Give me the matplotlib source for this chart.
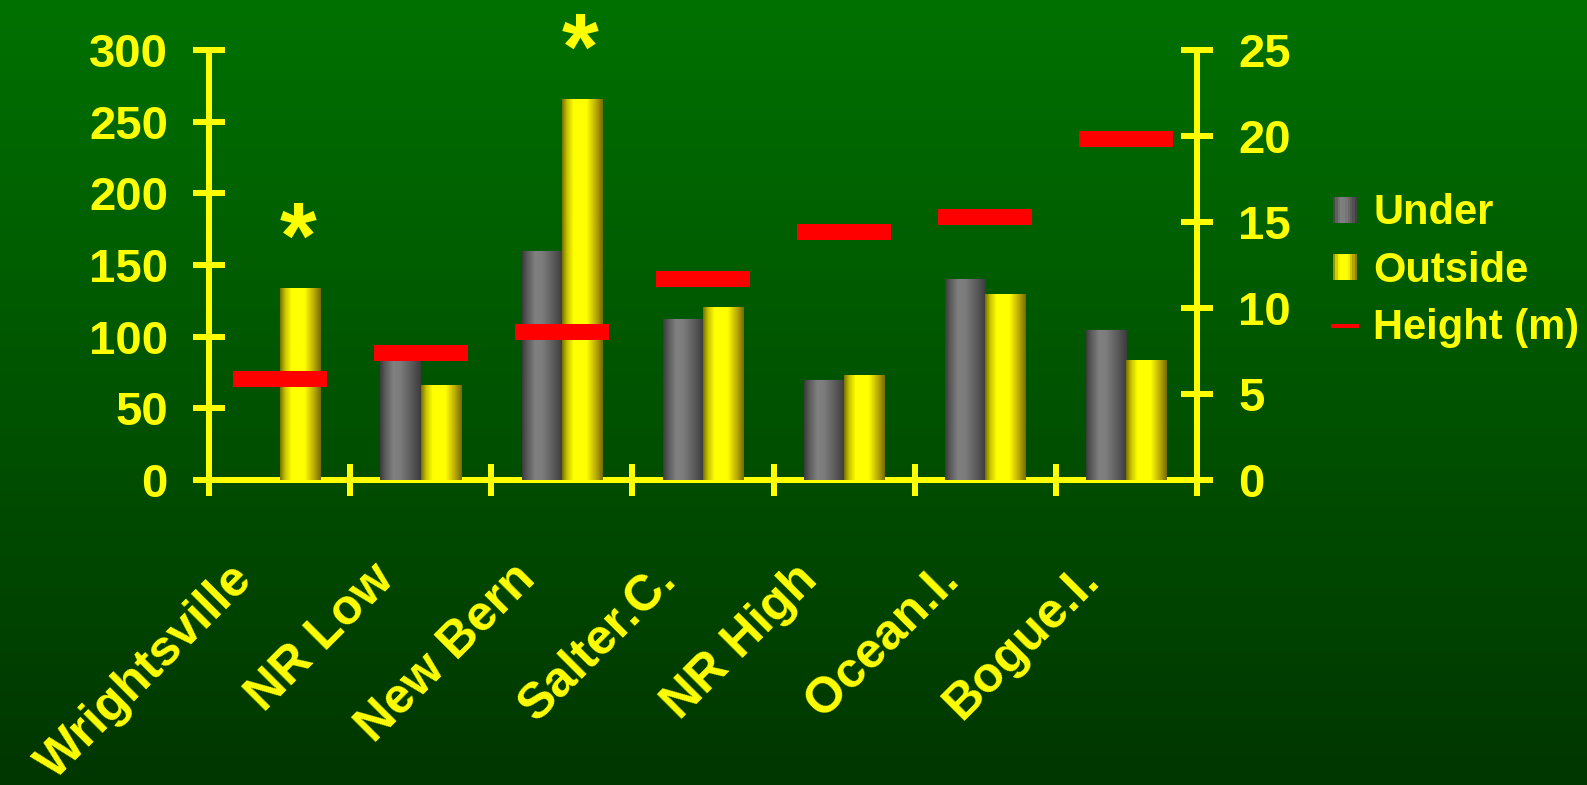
import numpy as np
import matplotlib
matplotlib.use("Agg")
import matplotlib.pyplot as plt
from matplotlib.colors import LinearSegmentedColormap
from matplotlib.patches import Rectangle, Patch
from matplotlib.lines import Line2D
from matplotlib.legend_handler import HandlerBase
from matplotlib.transforms import ScaledTranslation

# ---- data -------------------------------------------------------------
categories = ["Wrightsville", "NR Low", "New Bern", "Salter.C.",
              "NR High", "Ocean.I.", "Bogue.I."]
under = [0, 87, 160, 112, 70, 140, 105]
outside = [134, 66, 266, 121, 73, 130, 84]
height_m = [5.9, 7.4, 8.6, 11.7, 14.4, 15.3, 19.8]
significant = [True, False, True, False, False, False, False]
left_ticks = [0, 50, 100, 150, 200, 250, 300]
right_ticks = [0, 5, 10, 15, 20, 25]

# ---- style ------------------------------------------------------------
YELLOW = "#ffff00"
FONT = "Liberation Sans"
plt.rcParams["font.family"] = [FONT, "DejaVu Sans"]
plt.rcParams["font.weight"] = "bold"

DPI = 100
PX = 72.0 / DPI  # points per pixel

gray_stops = [(0.0, "#3c3c3c"), (0.12, "#5a5a5a"), (0.32, "#808080"),
              (0.5, "#7c7c7c"), (0.78, "#5a5a5a"), (1.0, "#3c3c3c")]
yellow_stops = [(0.0, "#7a7400"), (0.12, "#c8c400"), (0.28, "#ffff00"),
                (0.6, "#ffff00"), (0.82, "#c0b000"), (1.0, "#786c00")]
gray_cmap = LinearSegmentedColormap.from_list("cyl_gray", gray_stops)
yellow_cmap = LinearSegmentedColormap.from_list("cyl_yellow", yellow_stops)

fig = plt.figure(figsize=(15.87, 7.85), dpi=DPI)

# background: vertical green gradient
bg = fig.add_axes([0, 0, 1, 1], zorder=-10)
top_c = np.array([0, 113, 0]) / 255.0
bot_c = np.array([0, 54, 0]) / 255.0
t = np.linspace(0, 1, 256)[:, None, None]
bg.imshow(top_c * (1 - t) + bot_c * t, aspect="auto", extent=(0, 1, 0, 1))
bg.set_axis_off()

L, R = 209 / 1587, 1197 / 1587
B, T = 1 - 480 / 785, 1 - 50 / 785
ax = fig.add_axes([L, B, R - L, T - B])
ax.set_facecolor("none")
ax2 = ax.twinx()

x = np.arange(len(categories))
bw = 0.285

bars_u = ax.bar(x - bw / 2, under, bw, color="#6a6a6a", zorder=2)
bars_o = ax.bar(x + bw / 2, outside, bw, color="#e0e000", zorder=2)

# cylinder-style shading clipped to each bar
grad = np.linspace(0, 1, 64)[None, :]
for bars, cmap in ((bars_u, gray_cmap), (bars_o, yellow_cmap)):
    for rect in bars:
        h = rect.get_height()
        if h <= 0:
            continue
        x0, w = rect.get_x(), rect.get_width()
        im = ax.imshow(grad, cmap=cmap, extent=(x0, x0 + w, 0, h),
                       aspect="auto", interpolation="bilinear", zorder=3)
        im.set_clip_path(rect)

# significance markers above the outside bars
for xi, v, sig in zip(x, outside, significant):
    if sig:
        ax.annotate("*", (xi + bw / 2, v), xytext=(-2 * PX, 20 * PX),
                    textcoords="offset points", ha="center", va="baseline",
                    fontsize=68, color=YELLOW, fontweight="bold", zorder=5)

# height markers on the right axis
ax2.hlines(height_m, x - 1 / 3, x + 1 / 3, colors="#ff0000",
           linewidth=16 * PX, capstyle="butt", zorder=4)

ax.set_xlim(-0.5, len(categories) - 0.5)
ax.set_ylim(0, 300)
ax2.set_ylim(0, 25)

# spines
lw = 6 * PX
for a in (ax, ax2):
    for s in a.spines.values():
        s.set_visible(False)
for s in ("left", "bottom"):
    ax.spines[s].set_visible(True)
    ax.spines[s].set_color(YELLOW)
    ax.spines[s].set_linewidth(lw)
ax2.spines["right"].set_visible(True)
ax2.spines["right"].set_color(YELLOW)
ax2.spines["right"].set_linewidth(lw)

# y ticks
ax.set_yticks(left_ticks)
ax2.set_yticks(right_ticks)
for a in (ax, ax2):
    a.tick_params(axis="y", direction="inout", length=32 * PX, width=lw,
                  color=YELLOW, labelcolor=YELLOW, labelsize=34,
                  pad=25 * PX)
for lbl in ax.get_yticklabels() + ax2.get_yticklabels():
    lbl.set_fontweight("bold")

# x ticks: boundaries as minor ticks, names at category centres
ax.set_xticks(np.arange(-0.5, len(categories)), minor=True)
ax.tick_params(axis="x", which="minor", direction="inout", length=32 * PX,
               width=lw, color=YELLOW)
ax.set_xticks(x, labels=categories, rotation=45, ha="right", va="baseline",
              rotation_mode="anchor", fontsize=36, fontweight="bold",
              color=YELLOW)
ax.tick_params(axis="x", which="major", length=0, pad=101 * PX)
shift = ScaledTranslation(-25 / DPI, 0, fig.dpi_scale_trans)
for lbl in ax.get_xticklabels():
    lbl.set_transform(lbl.get_transform() + shift)


# legend with banded cylinder swatches
class StripHandler(HandlerBase):
    def __init__(self, cmap, n=10):
        super().__init__()
        self.cmap, self.n = cmap, n

    def create_artists(self, legend, orig_handle, xdescent, ydescent,
                       width, height, fontsize, trans):
        sw = width / self.n
        return [Rectangle((-xdescent + i * sw, -ydescent), sw * 1.02, height,
                          facecolor=self.cmap((i + 0.5) / self.n),
                          edgecolor="none", transform=trans)
                for i in range(self.n)]


h_under = Patch(label="Under")
h_out = Patch(label="Outside")
h_height = Line2D([], [], color="#ff0000", lw=4 * PX, label="Height (m)")
leg = fig.legend(handles=[h_under, h_out, h_height],
                 handler_map={h_under: StripHandler(gray_cmap),
                              h_out: StripHandler(yellow_cmap)},
                 loc="center left",
                 bbox_to_anchor=(1333 / 1587, 1 - 271 / 785),
                 frameon=False, borderpad=0, borderaxespad=0,
                 handlelength=0.58, handleheight=0.58, handletextpad=0.38,
                 labelspacing=0.42, prop={"family": FONT, "weight": "bold",
                                          "size": 30})
for txt in leg.get_texts():
    txt.set_color(YELLOW)

fig.savefig("out.png", dpi=DPI)
